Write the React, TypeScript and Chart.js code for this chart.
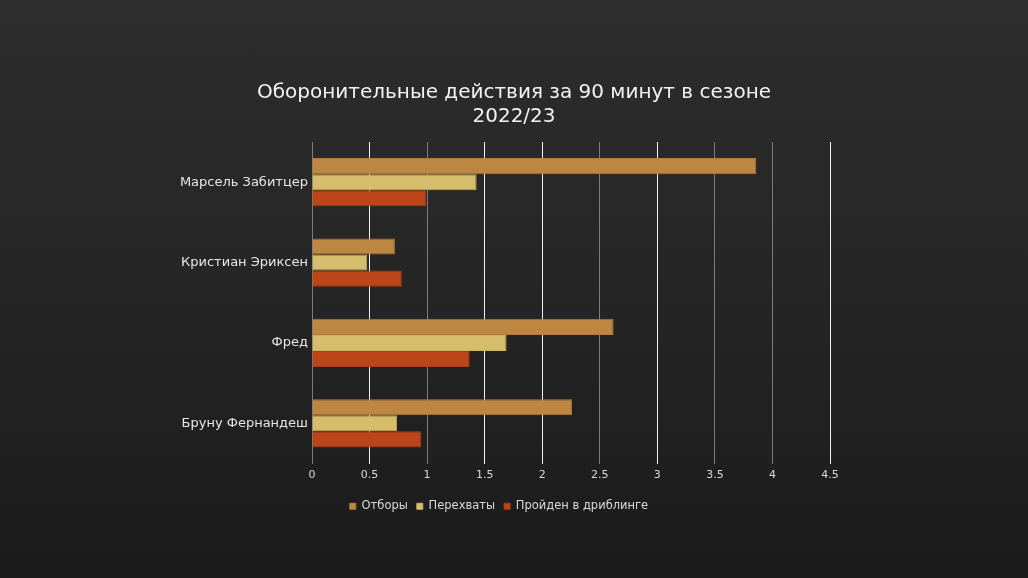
import React, { useEffect, useRef } from "react";
import { Chart, registerables } from "chart.js";

Chart.register(...registerables);

const players = ["Марсель Забитцер", "Кристиан Эриксен", "Фред", "Бруну Фернандеш"];
const tackles = [3.86, 0.72, 2.62, 2.26];
const interceptions = [1.43, 0.48, 1.69, 0.74];
const dribbledPast = [0.99, 0.78, 1.37, 0.95];
const seriesNames = ["Отборы", "Перехваты", "Пройден в дриблинге"];
const titleLines = ["Оборонительные действия за 90 минут в сезоне", "2022/23"];
const gridColors = ["#7c7c7c", "#f2f2f2", "#7c7c7c", "#f2f2f2", "#f2f2f2", "#7c7c7c", "#f2f2f2", "#7c7c7c", "#7c7c7c", "#f2f2f2"];

const FONT = "'DejaVu Sans', sans-serif";

const boxShift = {
  id: "boxShift",
  afterLayout(chart: any) {
    if (chart.titleBlock) {
      chart.titleBlock.left += 99;
      chart.titleBlock.right += 99;
    }
    if (chart.legend) {
      chart.legend.left += 84;
      chart.legend.right += 84;
    }
  },
};

export default function App() {
  const ref = useRef<HTMLCanvasElement>(null);

  useEffect(() => {
    if (!ref.current) return;
    const chart = new Chart(ref.current, {
      type: "bar",
      data: {
        labels: players,
        datasets: [
          { label: seriesNames[0], data: tackles, backgroundColor: "#bd8742", borderColor: "#b27d3c", borderWidth: 1 },
          { label: seriesNames[1], data: interceptions, backgroundColor: "#d5bd6b", borderColor: "#c9b060", borderWidth: 1 },
          { label: seriesNames[2], data: dribbledPast, backgroundColor: "#bc4519", borderColor: "#ad3d15", borderWidth: 1 },
        ],
      },
      plugins: [boxShift],
      options: {
        indexAxis: "y",
        animation: false,
        responsive: false,
        maintainAspectRatio: false,
        layout: { padding: { left: 0, right: 198, top: 0, bottom: 56 } },
        datasets: { bar: { categoryPercentage: 0.6, barPercentage: 1 } },
        plugins: {
          tooltip: { enabled: false },
          title: {
            display: true,
            text: titleLines,
            color: "#f2f2f2",
            font: { family: FONT, size: 20, weight: "normal", lineHeight: 1.2 },
            padding: { top: 81, bottom: 13 },
          },
          legend: {
            position: "bottom",
            labels: {
              color: "#d9d9d9",
              font: { family: FONT, size: 11.5 },
              boxWidth: 6,
              boxHeight: 6,
              padding: 9,
            },
          },
        },
        scales: {
          x: {
            min: 0,
            max: 4.5,
            ticks: {
              stepSize: 0.5,
              color: "#d9d9d9",
              font: { family: FONT, size: 11 },
              padding: 5,
              callback: (v: any) => String(Number(v)),
            },
            grid: {
              color: (ctx: any) => gridColors[ctx.index] ?? "#bfbfbf",
              lineWidth: 1,
              drawTicks: false,
            },
            border: { display: false },
            afterFit: (scale: any) => { scale.height = 28; },
          },
          y: {
            ticks: { color: "#e6e6e6", font: { family: FONT, size: 13 }, padding: 4 },
            grid: { display: false, drawTicks: false },
            border: { display: false },
            afterFit: (scale: any) => { scale.width = 312; },
          },
        },
      },
    });
    return () => chart.destroy();
  }, []);

  return (
    <div
      style={{
        position: "fixed",
        left: 0,
        top: 0,
        width: 1028,
        height: 578,
        background: "linear-gradient(180deg, #2d2d2d 0%, #262627 45%, #1b1b1c 100%)",
      }}
    >
      <canvas ref={ref} width={1028} height={578} />
    </div>
  );
}
